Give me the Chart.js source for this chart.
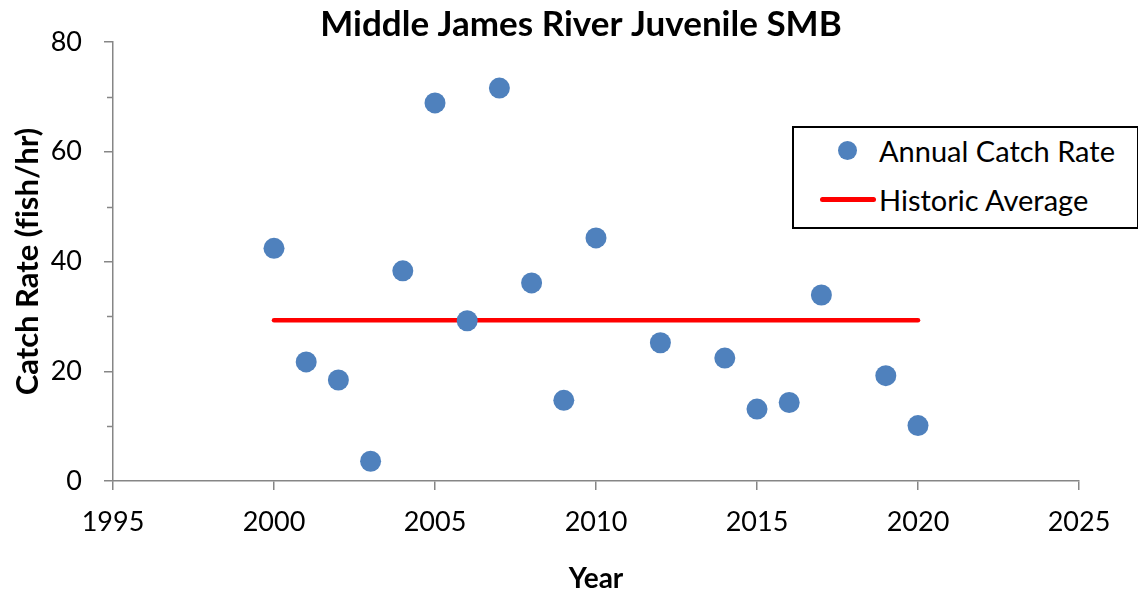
<!DOCTYPE html>
<html>
<head>
<meta charset="utf-8">
<script src="https://cdn.jsdelivr.net/npm/chart.js@4"></script>
<style>
  html, body { margin: 0; padding: 0; background: #ffffff; }
  #wrap { position: relative; width: 1138px; height: 590px; }
  #legend {
    position: absolute; left: 792px; top: 126px; width: 343px; height: 99px;
    border: 2px solid #000; background: #fff; box-sizing: content-box;
    font-family: Lato, "Open Sans", sans-serif; font-size: 29px; color: #000;
  }
  .item { position: absolute; left: 0; height: 40px; display: flex; align-items: center; }
  .dot { position: absolute; left: 44px; width: 19px; height: 19px; border-radius: 50%; background: #4F81BD; }
  .bar { position: absolute; left: 26px; width: 56px; height: 5px; border-radius: 3px; background: #FF0000; }
  .lbl { position: absolute; left: 85px; white-space: nowrap; }
</style>
</head>
<body>
<div id="wrap">
  <canvas id="c" width="1138" height="590"></canvas>
  <div id="legend">
    <div class="item" style="top:2px;width:100%"><span class="dot"></span><span class="lbl">Annual Catch Rate</span></div>
    <div class="item" style="top:51px;width:100%"><span class="bar"></span><span class="lbl">Historic Average</span></div>
  </div>
</div>
<script>
// ---- data ----
const years = [2000, 2001, 2002, 2003, 2004, 2005, 2006, 2007, 2008, 2009, 2010, 2012, 2014, 2015, 2016, 2017, 2019, 2020];
const catchRates = [42.4, 21.7, 18.4, 3.6, 38.3, 68.9, 29.2, 71.6, 36.1, 14.7, 44.3, 25.2, 22.4, 13.1, 14.3, 33.9, 19.2, 10.1];
const averageYears = [2000, 2020];
const averageValues = [29.3, 29.3];
const xTickValues = [1995, 2000, 2005, 2010, 2015, 2020, 2025];
const yTickValues = [0, 20, 40, 60, 80];
const yMinorTickValues = [10, 30, 50, 70];
const titleText = 'Middle James River Juvenile SMB';
const xTitle = 'Year';
const yTitle = 'Catch Rate (f\u200Cish/hr)';
const seriesNames = ['Annual Catch Rate', 'Historic Average'];

const FONT = 'Lato, "Open Sans", sans-serif';
const AXIS = '#868686';

const scatterData = years.map((x, i) => ({ x, y: catchRates[i] }));
const avgData = averageYears.map((x, i) => ({ x, y: averageValues[i] }));

const extras = {
  id: 'extras',
  afterDraw(chart) {
    const ctx = chart.ctx;
    const ys = chart.scales.y;
    ctx.save();
    ctx.strokeStyle = AXIS;
    ctx.lineWidth = 1.5;
    yMinorTickValues.forEach(v => {
      const py = Math.round(ys.getPixelForValue(v)) + 0.5;
      ctx.beginPath();
      ctx.moveTo(ys.right - 6, py);
      ctx.lineTo(ys.right, py);
      ctx.stroke();
    });
    ctx.fillStyle = '#000';
    ctx.font = 'bold 35px ' + FONT;
    ctx.textAlign = 'center';
    ctx.textBaseline = 'middle';
    ctx.fillText(titleText, 581, 25);
    ctx.restore();
  }
};

new Chart(document.getElementById('c'), {
  type: 'scatter',
  data: {
    datasets: [
      {
        label: seriesNames[0],
        data: scatterData,
        backgroundColor: '#4F81BD',
        borderColor: '#4F81BD',
        borderWidth: 0,
        pointRadius: 10.5,
        pointHoverRadius: 10.5,
        order: 1
      },
      {
        type: 'line',
        label: seriesNames[1],
        data: avgData,
        borderColor: '#FF0000',
        borderWidth: 4.5,
        borderCapStyle: 'round',
        pointRadius: 0,
        fill: false,
        showLine: true,
        order: 2
      }
    ]
  },
  options: {
    responsive: false,
    animation: false,
    events: [],
    layout: { padding: { left: 0, right: 59, top: 42, bottom: 0 } },
    plugins: { legend: { display: false }, title: { display: false }, tooltip: { enabled: false } },
    scales: {
      x: {
        type: 'linear',
        min: 1995, max: 2025,
        afterBuildTicks: s => { s.ticks = xTickValues.map(v => ({ value: v })); },
        afterFit: s => { s.height = 109; },
        ticks: { color: '#000', font: { family: FONT, size: 27 }, padding: 16, maxRotation: 0, callback: v => String(v) },
        grid: { display: true, drawOnChartArea: false, drawTicks: true, tickLength: 9, color: AXIS, lineWidth: 1.5 },
        border: { display: true, color: AXIS, width: 1.5 },
        title: { display: true, text: xTitle, color: '#000', font: { family: FONT, size: 28, weight: 'bold', lineHeight: 0.8 }, padding: { top: 0, bottom: 0 } }
      },
      y: {
        type: 'linear',
        min: 0, max: 80,
        afterBuildTicks: s => { s.ticks = yTickValues.map(v => ({ value: v })); },
        afterFit: s => { s.width = 113; },
        ticks: { color: '#000', font: { family: FONT, size: 27 }, padding: 22, callback: v => String(v) },
        grid: { display: true, drawOnChartArea: false, drawTicks: true, tickLength: 9, color: AXIS, lineWidth: 1.5 },
        border: { display: true, color: AXIS, width: 1.5 },
        title: { display: true, text: yTitle, color: '#000', font: { family: FONT, size: 31, weight: 'bold', lineHeight: 1 }, padding: { top: 12, bottom: 0 } }
      }
    }
  },
  plugins: [extras]
});
</script>
</body>
</html>
